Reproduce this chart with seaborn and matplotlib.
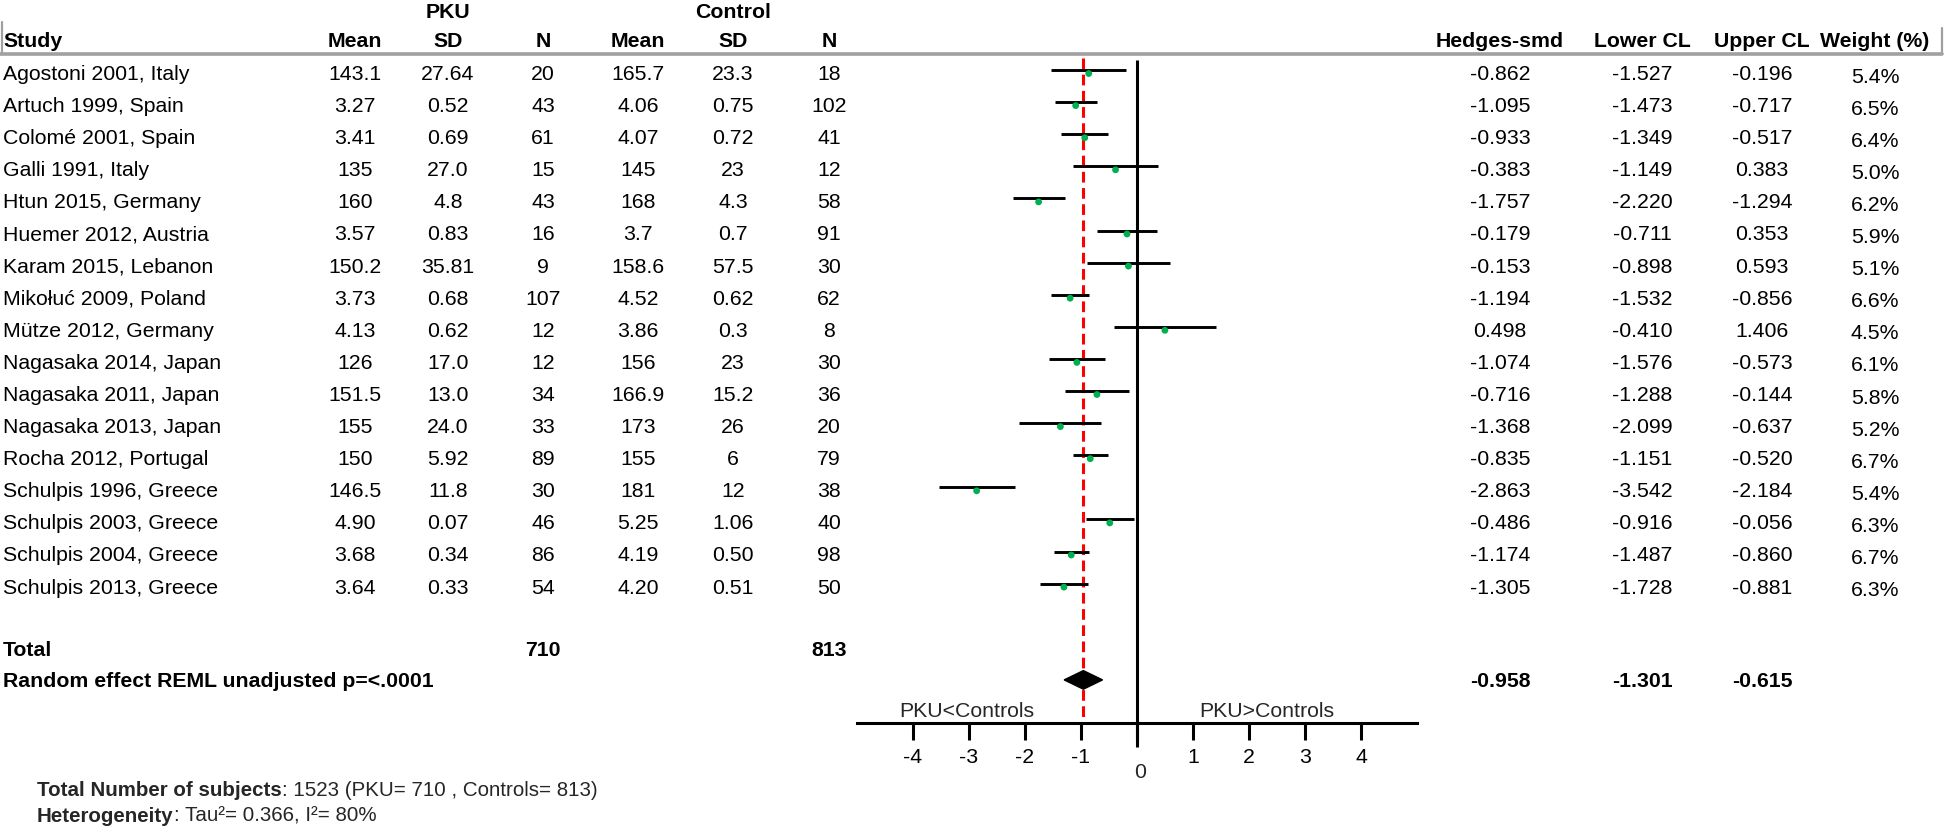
import numpy as np
import pandas as pd
import seaborn as sns
import matplotlib.pyplot as plt
import matplotlib.transforms as mtransforms
from matplotlib.patches import Polygon
from matplotlib.lines import Line2D

# data
studies = ['Agostoni 2001, Italy', 'Artuch 1999, Spain', 'Colomé 2001, Spain', 'Galli 1991, Italy',
           'Htun 2015, Germany', 'Huemer 2012, Austria', 'Karam 2015, Lebanon', 'Mikołuć 2009, Poland',
           'Mütze 2012, Germany', 'Nagasaka 2014, Japan', 'Nagasaka 2011, Japan', 'Nagasaka 2013, Japan',
           'Rocha 2012, Portugal', 'Schulpis 1996, Greece', 'Schulpis 2003, Greece', 'Schulpis 2004, Greece',
           'Schulpis 2013, Greece']
pku_mean = ['143.1', '3.27', '3.41', '135', '160', '3.57', '150.2', '3.73', '4.13', '126', '151.5', '155',
            '150', '146.5', '4.90', '3.68', '3.64']
pku_sd = ['27.64', '0.52', '0.69', '27.0', '4.8', '0.83', '35.81', '0.68', '0.62', '17.0', '13.0', '24.0',
          '5.92', '11.8', '0.07', '0.34', '0.33']
pku_n = [20, 43, 61, 15, 43, 16, 9, 107, 12, 12, 34, 33, 89, 30, 46, 86, 54]
ctrl_mean = ['165.7', '4.06', '4.07', '145', '168', '3.7', '158.6', '4.52', '3.86', '156', '166.9', '173',
             '155', '181', '5.25', '4.19', '4.20']
ctrl_sd = ['23.3', '0.75', '0.72', '23', '4.3', '0.7', '57.5', '0.62', '0.3', '23', '15.2', '26',
           '6', '12', '1.06', '0.50', '0.51']
ctrl_n = [18, 102, 41, 12, 58, 91, 30, 62, 8, 30, 36, 20, 79, 38, 40, 98, 50]
smd = [-0.862, -1.095, -0.933, -0.383, -1.757, -0.179, -0.153, -1.194, 0.498, -1.074, -0.716, -1.368,
       -0.835, -2.863, -0.486, -1.174, -1.305]
lower = [-1.527, -1.473, -1.349, -1.149, -2.220, -0.711, -0.898, -1.532, -0.410, -1.576, -1.288, -2.099,
         -1.151, -3.542, -0.916, -1.487, -1.728]
upper = [-0.196, -0.717, -0.517, 0.383, -1.294, 0.353, 0.593, -0.856, 1.406, -0.573, -0.144, -0.637,
         -0.520, -2.184, -0.056, -0.860, -0.881]
weight = ['5.4%', '6.5%', '6.4%', '5.0%', '6.2%', '5.9%', '5.1%', '6.6%', '4.5%', '6.1%', '5.8%', '5.2%',
          '6.7%', '5.4%', '6.3%', '6.7%', '6.3%']
total_pku, total_ctrl = 710, 813
pooled, pooled_lo, pooled_hi = -0.958, -1.301, -0.615
xticks = [-4, -3, -2, -1, 0, 1, 2, 3, 4]

sns.set_theme(style='white')
plt.rcParams['font.family'] = ['Liberation Sans', 'DejaVu Sans']
FS = 15.3

W, H = 1946, 827
fig = plt.figure(figsize=(W / 100, H / 100), dpi=100)
ax = fig.add_axes([857 / W, 0, 560 / W, 1])

df = pd.DataFrame({'study': studies, 'smd': smd, 'lower': lower, 'upper': upper})
df['row'] = np.arange(len(df))
row_total, row_random = len(df) + 1, len(df) + 2
axis_row = 20.34

# CI lines, zero line, pooled line
ax.hlines(df['row'], df['lower'], df['upper'], color='black', lw=2.1, zorder=3)
ax.vlines(0, -0.31, 21.1, color='black', lw=2.2, zorder=2)
ax.vlines(pooled, -0.37, axis_row, colors='red', linestyles=(0, (3.5, 1.8)), lw=2.2, zorder=2)

# green points sit a little under the CI line in the original
dot_tr = mtransforms.offset_copy(ax.transData, fig=fig, y=-3.5, units='dots')
sns.scatterplot(data=df, x='smd', y='row', ax=ax, color='#00b050', s=24, edgecolor='none',
                transform=dot_tr, zorder=4, legend=False)

# pooled diamond
ax.add_patch(Polygon([(pooled_lo, row_random), (pooled, row_random - 0.29),
                      (pooled_hi, row_random), (pooled, row_random + 0.29)],
                     closed=True, fc='black', ec='black', zorder=4))

ax.set_xlim(-5, 5)
ax.set_ylim((H - 70) / 32.1, -70 / 32.1)
ax.set_xlabel('')
ax.set_ylabel('')
ax.set_yticks([])
for s in ['top', 'left', 'right']:
    ax.spines[s].set_visible(False)
ax.spines['bottom'].set_position(('data', axis_row))
ax.spines['bottom'].set_linewidth(2.2)
ax.spines['bottom'].set_color('black')
ax.set_xticks(xticks)
ax.set_xticklabels(['' if t == 0 else str(t) for t in xticks])
ax.tick_params(axis='x', bottom=True, direction='out', length=12, width=2.2, labelsize=FS, pad=6,
               colors='black')
ax.patch.set_alpha(0)
ax.text(0.05, 21.87, '0', ha='center', va='center', fontsize=FS)
ax.text(-3.04, 19.98, 'PKU<Controls', ha='center', va='center', fontsize=FS)
ax.text(2.32, 19.98, 'PKU>Controls', ha='center', va='center', fontsize=FS)

# table text
tr = mtransforms.blended_transform_factory(fig.transFigure, ax.transData)
def put(xpx, row, s, ha='center', bold=False, fs=FS):
    ax.text(xpx / W, row, s, transform=tr, ha=ha, va='center', fontsize=fs,
            fontweight='bold' if bold else 'normal', color='black')

cols_left = [355, 448, 543, 638, 733, 829]
cols_right = [1500, 1642, 1762, 1875]
head_row, group_row = -0.9, -1.78
dy = 0.14  # table text sits slightly below the CI lines

put(448, group_row, 'PKU', bold=True)
put(733, group_row, 'Control', bold=True)
put(3, head_row, 'Study', ha='left', bold=True)
for x, h in zip(cols_left, ['Mean', 'SD', 'N', 'Mean', 'SD', 'N']):
    put(x, head_row, h, bold=True)
for x, h in zip(cols_right, ['Hedges-smd', 'Lower CL', 'Upper CL', 'Weight (%)']):
    put(x, head_row, h, bold=True)

for i in range(len(studies)):
    put(3, i + dy, studies[i], ha='left')
    for x, v in zip(cols_left, [pku_mean[i], pku_sd[i], pku_n[i], ctrl_mean[i], ctrl_sd[i], ctrl_n[i]]):
        put(x, i + dy, str(v))
    put(cols_right[0], i + dy, f'{smd[i]:.3f}')
    put(cols_right[1], i + dy, f'{lower[i]:.3f}')
    put(cols_right[2], i + dy, f'{upper[i]:.3f}')
    put(cols_right[3], i + dy + 0.08, weight[i])

put(3, row_total + 0.08, 'Total', ha='left', bold=True)
put(cols_left[2], row_total + 0.08, str(total_pku), bold=True)
put(cols_left[5], row_total + 0.08, str(total_ctrl), bold=True)
put(3, row_random + 0.06, 'Random effect REML unadjusted p=<.0001', ha='left', bold=True)
put(cols_right[0], row_random + 0.06, f'{pooled:.3f}', bold=True)
put(cols_right[1], row_random + 0.06, f'{pooled_lo:.3f}', bold=True)
put(cols_right[2], row_random + 0.06, f'{pooled_hi:.3f}', bold=True)

# header rules
grey = '#a0a0a0'
fig.add_artist(Line2D([0, 1942 / W], [1 - 54 / H] * 2, color=grey, lw=2.6))
fig.add_artist(Line2D([2 / W, 2 / W], [1 - 22 / H, 1 - 54 / H], color=grey, lw=1.6))
fig.add_artist(Line2D([1942 / W, 1942 / W], [1 - 28 / H, 1 - 54 / H], color=grey, lw=1.6))

# footnotes
FS2 = 14.8
t1 = fig.text(37 / W, 1 - 800 / H, 'Total Number of subjects', fontsize=FS2, fontweight='bold', va='bottom')
ax.annotate(': 1523 (PKU= 710 , Controls= 813)', xy=(1, 0), xycoords=t1, va='bottom', ha='left',
            fontsize=FS2, annotation_clip=False)
t2 = fig.text(37 / W, 1 - 826 / H, 'Heterogeneity', fontsize=FS2, fontweight='bold', va='bottom')
ax.annotate(': Tau²= 0.366, I²= 80%', xy=(1, 0), xycoords=t2, va='bottom', ha='left',
            fontsize=FS2, annotation_clip=False)

fig.savefig('out.png', dpi=100)
